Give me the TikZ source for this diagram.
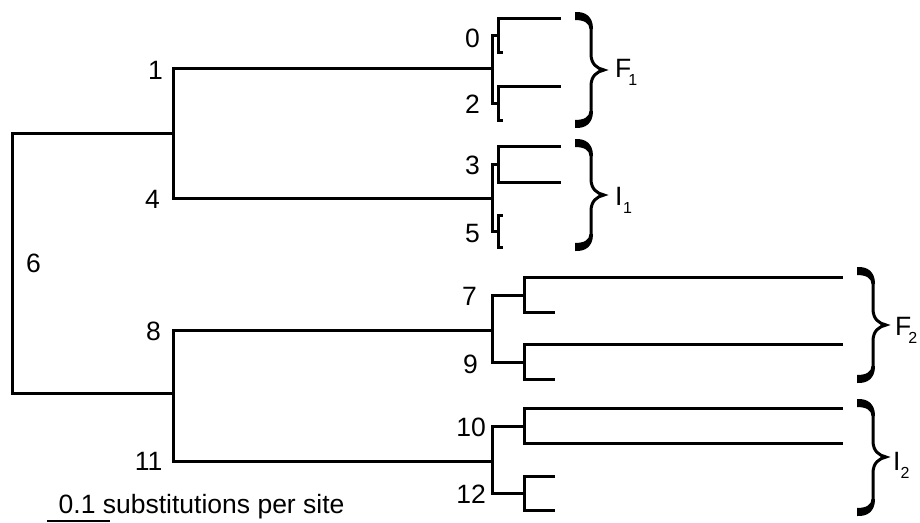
\documentclass[tikz,border=0pt]{standalone}
\usepackage{fontspec}
\setmainfont{Liberation Sans}

% curly brace: left end x, top y, bottom y, tip y
\newcommand\groupbrace[4]{%
  \fill ({#1},{#2-1}) .. controls ({#1+10},{#2-1.5}) and ({#1+18},{#2+3}) .. ({#1+18},{#2+16})
        -- ({#1+14.5},{#2+16}) .. controls ({#1+14.5},{#2+10}) and ({#1+9},{#2+7}) .. ({#1},{#2+7}) -- cycle;
  \fill ({#1},{#3+1}) .. controls ({#1+10},{#3+1.5}) and ({#1+18},{#3-3}) .. ({#1+18},{#3-16})
        -- ({#1+14.5},{#3-16}) .. controls ({#1+14.5},{#3-10}) and ({#1+9},{#3-7}) .. ({#1},{#3-7}) -- cycle;
  \draw[bracestroke] ({#1+16},{#2+14}) -- ({#1+16},{#4-16})
        .. controls ({#1+16},{#4-6}) and ({#1+22},{#4-1.5}) .. ({#1+29},{#4})
        .. controls ({#1+22},{#4+1.5}) and ({#1+16},{#4+6}) .. ({#1+16},{#4+16})
        -- ({#1+16},{#3-14});
}

\begin{document}
\begin{tikzpicture}[x=1pt,y=-1pt,
  branch/.style={line width=3pt, line join=miter},
  bracestroke/.style={line width=3pt, line join=miter, miter limit=4},
  lbl/.style={inner sep=0pt, font=\fontsize{26.5}{26.5}\selectfont, anchor=base east},
  grp/.style={inner sep=0pt, font=\fontsize{26.5}{26.5}\selectfont, anchor=base west}]
\newcommand\sub[2]{\kern#1pt\raisebox{-8pt}{\fontsize{16}{16}\selectfont #2}}
\useasboundingbox (0,0) rectangle (920,522);

% internal nodes (position of each vertical bar's midpoint)
\coordinate (r)   at (12,263);
\coordinate (A)   at (173,133);
\coordinate (D)   at (173,393);
\coordinate (B1)  at (492,68);
\coordinate (B4)  at (492,198);
\coordinate (B8)  at (492,330);
\coordinate (B11) at (492,461);
\coordinate (C0)  at (498,35);
\coordinate (C2)  at (498,103);
\coordinate (C3)  at (498,164);
\coordinate (C5)  at (498,231);
\coordinate (C7)  at (524,295);
\coordinate (C9)  at (524,362);
\coordinate (C10) at (524,426);
\coordinate (C12) at (524,493);

% leaf tips
\coordinate (L0a)  at (561,18);  \coordinate (L0b)  at (503,52);
\coordinate (L2a)  at (561,86);  \coordinate (L2b)  at (503,120);
\coordinate (L3a)  at (561,146); \coordinate (L3b)  at (561,182);
\coordinate (L5a)  at (503,215); \coordinate (L5b)  at (503,247);
\coordinate (L7a)  at (843,277); \coordinate (L7b)  at (555,312);
\coordinate (L9a)  at (843,344); \coordinate (L9b)  at (555,379);
\coordinate (L10a) at (843,408); \coordinate (L10b) at (843,443);
\coordinate (L12a) at (555,476); \coordinate (L12b) at (555,510);

% branches
\draw[branch] (r) |- (A);   \draw[branch] (r) |- (D);
\draw[branch] (A) |- (B1);  \draw[branch] (A) |- (B4);
\draw[branch] (D) |- (B8);  \draw[branch] (D) |- (B11);
\draw[branch] (B1) |- (C0); \draw[branch] (B1) |- (C2);
\draw[branch] (B4) |- (C3); \draw[branch] (B4) |- (C5);
\draw[branch] (B8) |- (C7); \draw[branch] (B8) |- (C9);
\draw[branch] (B11) |- (C10); \draw[branch] (B11) |- (C12);
\draw[branch] (C0) |- (L0a);  \draw[branch] (C0) |- (L0b);
\draw[branch] (C2) |- (L2a);  \draw[branch] (C2) |- (L2b);
\draw[branch] (C3) |- (L3a);  \draw[branch] (C3) |- (L3b);
\draw[branch] (C5) |- (L5a);  \draw[branch] (C5) |- (L5b);
\draw[branch] (C7) |- (L7a);  \draw[branch] (C7) |- (L7b);
\draw[branch] (C9) |- (L9a);  \draw[branch] (C9) |- (L9b);
\draw[branch] (C10) |- (L10a); \draw[branch] (C10) |- (L10b);
\draw[branch] (C12) |- (L12a); \draw[branch] (C12) |- (L12b);

% node numbers
\node[lbl] (t6)  at (41,272)  {6};
\node[lbl] (t1)  at (163,79) {1};
\node[lbl] (t4)  at (160,208) {4};
\node[lbl] (t8)  at (161,340) {8};
\node[lbl] (t11) at (162.5,470) {11};
\node[lbl] (t0)  at (480,47)  {0};
\node[lbl] (t2)  at (480,113) {2};
\node[lbl] (t3)  at (480,174) {3};
\node[lbl] (t5)  at (480,242) {5};
\node[lbl] (t7)  at (477,305) {7};
\node[lbl] (t9)  at (478,373) {9};
\node[lbl] (t10) at (486,436) {10};
\node[lbl] (t12) at (486,503) {12};

% group braces and names
\groupbrace{575}{13}{127}{70}
\groupbrace{575}{140}{250}{195}
\groupbrace{857}{268}{382}{325}
\groupbrace{857}{400}{515}{457}
\node[grp] (gF1) at (615,77)  {F\sub{-3}{1}};
\node[grp] (gI1) at (615,205) {I\sub{0.5}{1}};
\node[grp] (gF2) at (895,335) {F\sub{-3}{2}};
\node[grp] (gI2) at (893,470) {I\sub{0}{2}};

% scale bar
\coordinate (bar0) at (47,520.5);
\coordinate (bar1) at (110,520.5);
\draw[line width=2pt] (bar0) -- (bar1);
\node[grp] (scale) at (58.5,513) {0.1 substitutions per site};
\end{tikzpicture}
\end{document}
